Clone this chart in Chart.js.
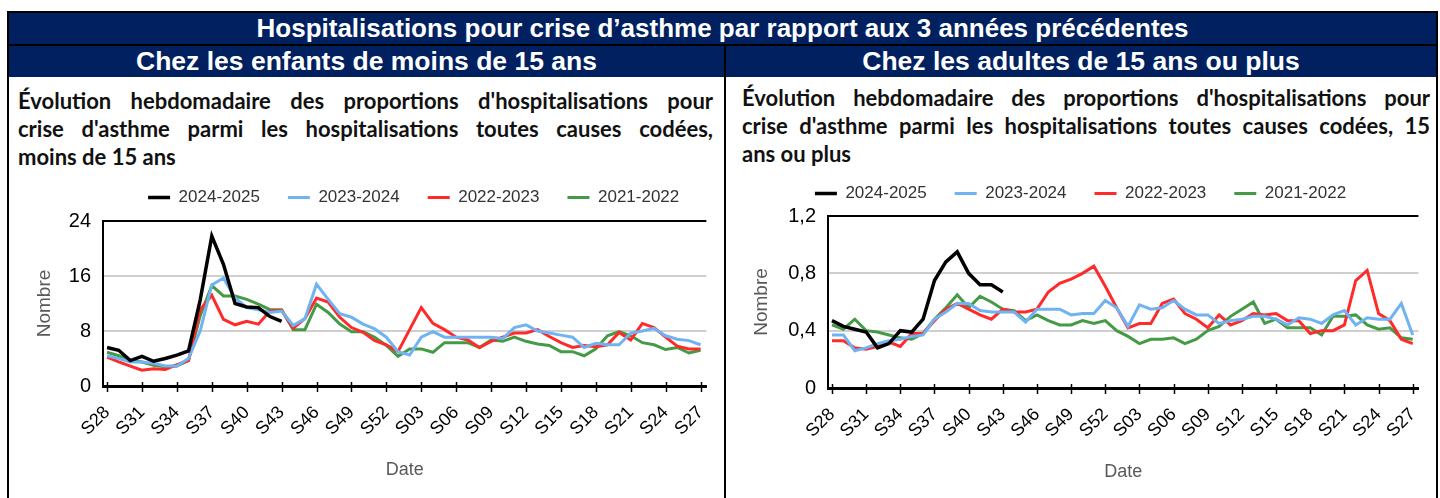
<!DOCTYPE html>
<html lang="fr">
<head>
<meta charset="utf-8">
<title>Hospitalisations pour crise d'asthme</title>
<script src="https://cdn.jsdelivr.net/npm/chart.js@4.4.1/dist/chart.umd.min.js"></script>
<style>
    html, body { margin: 0; padding: 0; background: #fff; }
    body {
        width: 1440px; height: 498px; position: relative; overflow: hidden;
        font-family: "Liberation Sans", Arial, sans-serif;
    }
    .frame {
        position: absolute; left: 7px; top: 11px; width: 1427px; height: 600px;
        border: 2px solid #000;
    }
    .band {
        position: absolute; background: #002060; color: #fff; font-weight: bold;
        text-align: center; white-space: nowrap; overflow: hidden;
    }
    #main-title { left: 9px; top: 13px; width: 1427px; height: 31px; line-height: 31px; font-size: 26px; }
    .rule-h { position: absolute; left: 9px; top: 44px; width: 1427px; height: 2px; background: #000; }
    .sub { top: 46px; height: 31px; line-height: 31px; font-size: 26.5px; }
    #sub-left { left: 9px; width: 715px; }
    #sub-right { left: 726px; width: 710px; }
    .rule-v { position: absolute; left: 724px; top: 44px; width: 2px; height: 460px; background: #000; }
    .desc {
        position: absolute; font-family: Lato, "Open Sans", sans-serif; font-weight: bold;
        font-size: 22px; line-height: 28px; color: #111;
    }
    .desc span { display: block; white-space: nowrap; }
    .desc .full { text-align: justify; text-align-last: justify; white-space: normal; }
    #desc-left { left: 18px; top: 87px; width: 695px; }
    #desc-right { left: 742px; top: 84px; width: 688px; }
    .chart-box { position: absolute; }
    #box-left { left: 9px; top: 161px; width: 715px; height: 337px; }
    #box-right { left: 726px; top: 157px; width: 710px; height: 341px; }
</style>
</head>
<body>
<div class="frame"></div>
<div class="band" id="main-title">Hospitalisations pour crise d’asthme par rapport aux 3 années précédentes</div>
<div class="rule-h"></div>
<div class="band sub" id="sub-left">Chez les enfants de moins de 15 ans</div>
<div class="band sub" id="sub-right">Chez les adultes de 15 ans ou plus</div>
<div class="rule-v"></div>

<div class="desc" id="desc-left">
    <span class="full">Évolution hebdomadaire des proportions d'hospitalisations pour</span>
    <span class="full">crise d'asthme parmi les hospitalisations toutes causes codées,</span>
    <span>moins de 15 ans</span>
</div>
<div class="desc" id="desc-right">
    <span class="full">Évolution hebdomadaire des proportions d'hospitalisations pour</span>
    <span class="full">crise d'asthme parmi les hospitalisations toutes causes codées, 15</span>
    <span>ans ou plus</span>
</div>

<div class="chart-box" id="box-left"><canvas id="chart-enfants"></canvas></div>
<div class="chart-box" id="box-right"><canvas id="chart-adultes"></canvas></div>

<script>
// Semaines S28 -> S27 (saison juillet à juin)
const weeks = [
    'S28', 'S29', 'S30', 'S31', 'S32', 'S33', 'S34', 'S35', 'S36', 'S37', 'S38', 'S39', 'S40',
    'S41', 'S42', 'S43', 'S44', 'S45', 'S46', 'S47', 'S48', 'S49', 'S50', 'S51', 'S52',
    'S01', 'S02', 'S03', 'S04', 'S05', 'S06', 'S07', 'S08', 'S09', 'S10', 'S11', 'S12', 'S13',
    'S14', 'S15', 'S16', 'S17', 'S18', 'S19', 'S20', 'S21', 'S22', 'S23', 'S24', 'S25', 'S26', 'S27'
];
const seasons = ['2024-2025', '2023-2024', '2022-2023', '2021-2022'];
const seasonColors = ['#000000', '#6fb3f2', '#ff2a2a', '#459a45'];

// Moins de 15 ans
const kids2425 = [5.6, 5.2, 3.7, 4.3, 3.6, 4.0, 4.5, 5.1, 12.5, 21.8, 17.7, 12.0, 11.5, 11.4, 10.1, 9.4];
const kids2324 = [4.4, 4.0, 3.5, 3.5, 3.3, 2.9, 2.9, 4.0, 8.0, 14.7, 15.7, 12.8, 11.4, 11.1, 10.7, 10.9, 8.8, 9.8, 14.8, 12.6, 10.5, 10.0, 9.0, 8.3, 7.1,
    5.0, 4.5, 7.1, 7.9, 7.1, 7.1, 7.1, 7.1, 7.1, 6.9, 8.5, 8.9, 8.0, 7.7, 7.4, 7.1, 5.6, 6.2, 6.0, 6.0, 7.7, 8.0, 8.4, 7.3, 6.8, 6.6, 6.0];
const kids2223 = [4.2, 3.5, 2.9, 2.3, 2.5, 2.4, 3.1, 3.7, 11.1, 13.2, 9.7, 8.9, 9.4, 9.0, 10.9, 11.0, 8.4, 9.8, 12.8, 12.2, 10.0, 8.5, 7.8, 6.6, 6.0,
    5.0, 8.2, 11.4, 9.1, 8.2, 7.1, 6.7, 5.6, 6.5, 7.1, 7.7, 7.7, 8.2, 7.2, 6.3, 5.6, 5.9, 5.7, 6.0, 7.8, 6.7, 9.1, 8.5, 7.1, 5.8, 5.4, 5.4];
const kids2122 = [4.9, 4.4, 3.7, 3.5, 3.0, 2.8, 2.9, 3.7, 10.2, 14.6, 13.1, 13.1, 12.6, 11.9, 11.1, 11.1, 8.2, 8.2, 11.9, 10.7, 9.0, 7.9, 7.9, 7.1, 5.9,
    4.3, 5.4, 5.4, 4.9, 6.3, 6.3, 6.3, 5.6, 6.7, 6.5, 7.1, 6.5, 6.1, 5.9, 5.0, 5.0, 4.4, 5.4, 7.3, 7.9, 7.3, 6.3, 6.0, 5.3, 5.6, 4.8, 5.2];
const kidsTicks = [0, 8, 16, 24];

// 15 ans ou plus
const adults2425 = [0.47, 0.43, 0.41, 0.39, 0.28, 0.31, 0.40, 0.39, 0.48, 0.75, 0.88, 0.95, 0.80, 0.72, 0.72, 0.67];
const adults2324 = [0.37, 0.37, 0.26, 0.28, 0.31, 0.33, 0.34, 0.36, 0.37, 0.48, 0.53, 0.59, 0.59, 0.54, 0.53, 0.53, 0.53, 0.46, 0.55, 0.55, 0.55, 0.51, 0.52, 0.52, 0.61,
    0.56, 0.43, 0.58, 0.55, 0.56, 0.61, 0.55, 0.51, 0.51, 0.45, 0.47, 0.48, 0.50, 0.50, 0.48, 0.44, 0.49, 0.48, 0.45, 0.51, 0.54, 0.44, 0.49, 0.48, 0.48, 0.59, 0.37];
const adults2223 = [0.33, 0.33, 0.28, 0.27, 0.29, 0.32, 0.29, 0.38, 0.38, 0.47, 0.55, 0.59, 0.55, 0.51, 0.48, 0.55, 0.53, 0.53, 0.55, 0.67, 0.73, 0.76, 0.80, 0.85, 0.71,
    0.56, 0.42, 0.45, 0.45, 0.59, 0.62, 0.52, 0.48, 0.42, 0.51, 0.44, 0.47, 0.52, 0.51, 0.52, 0.47, 0.47, 0.38, 0.40, 0.40, 0.44, 0.75, 0.82, 0.52, 0.47, 0.34, 0.31];
const adults2122 = [0.44, 0.41, 0.48, 0.40, 0.39, 0.37, 0.35, 0.34, 0.38, 0.48, 0.56, 0.65, 0.56, 0.64, 0.60, 0.55, 0.54, 0.47, 0.51, 0.47, 0.44, 0.44, 0.47, 0.45, 0.47,
    0.40, 0.36, 0.31, 0.34, 0.34, 0.35, 0.31, 0.34, 0.40, 0.43, 0.50, 0.55, 0.60, 0.45, 0.48, 0.42, 0.42, 0.42, 0.37, 0.50, 0.50, 0.51, 0.44, 0.41, 0.42, 0.35, 0.34];
const adultsTicks = [0, 0.4, 0.8, 1.2];

Chart.defaults.font.family = "'Liberation Sans', Arial, sans-serif";
Chart.defaults.color = '#000';

// Petites croix sur l'axe des dates
const tickCross = {
    id: 'tickCross',
    afterDraw(chart) {
        const { ctx, chartArea } = chart;
        const x = chart.scales.x;
        ctx.save();
        ctx.strokeStyle = '#000';
        ctx.lineWidth = 1.5;
        x.ticks.forEach(t => {
            const px = Math.round(x.getPixelForValue(t.value)) + 0.5;
            ctx.beginPath();
            ctx.moveTo(px, chartArea.bottom - 4);
            ctx.lineTo(px, chartArea.bottom + 6);
            ctx.stroke();
        });
        ctx.restore();
    }
};

// Légende : hauteur fixe et petit décalage horizontal
const legendPlacement = {
    id: 'legendPlacement',
    afterInit(chart, args, opts) {
        const legend = chart.legend;
        if (!legend) return;
        const fit = legend.fit;
        legend.fit = function () {
            fit.call(this);
            this.height = opts.height;
        };
    },
    afterLayout(chart, args, opts) {
        if (!chart.legend || !opts.shift) return;
        chart.legend.left += opts.shift;
        chart.legend.right += opts.shift;
    }
};

function toPoints(values) {
    return weeks.map((w, i) => ({ x: i, y: i < values.length ? values[i] : null }));
}

function createChart(canvasId, series, yTicks, layout) {
    const yMax = yTicks[yTicks.length - 1];
    const datasets = series.map((values, i) => ({
        label: seasons[i],
        data: toPoints(values),
        borderColor: seasonColors[i],
        backgroundColor: seasonColors[i],
        borderWidth: i === 0 ? 3.5 : 3,
        pointRadius: 0,
        tension: 0,
        spanGaps: false
    }));

    return new Chart(document.getElementById(canvasId), {
        type: 'line',
        data: { datasets },
        plugins: [tickCross, legendPlacement],
        options: {
            responsive: true,
            maintainAspectRatio: false,
            animation: false,
            layout: { padding: { left: 0, right: layout.padRight, top: 0, bottom: 0 } },
            plugins: {
                legendPlacement: { height: layout.legendHeight, shift: layout.legendShift },
                tooltip: { enabled: false },
                legend: {
                    position: 'top',
                    fullSize: layout.legendFull,
                    labels: {
                        usePointStyle: true,
                        pointStyle: 'line',
                        pointStyleWidth: 22,
                        boxWidth: 22,
                        padding: 28,
                        color: '#333',
                        font: { size: 17 }
                    }
                }
            },
            scales: {
                x: {
                    type: 'linear',
                    min: -0.35,
                    max: 51.5,
                    afterBuildTicks: scale => {
                        scale.ticks = weeks.map((w, i) => ({ value: i })).filter(t => t.value % 3 === 0);
                    },
                    afterFit: scale => { scale.height = layout.xHeight; },
                    ticks: {
                        autoSkip: false,
                        minRotation: 45,
                        maxRotation: 45,
                        padding: 8,
                        font: { size: 18 },
                        callback: v => weeks[v]
                    },
                    grid: { display: false },
                    border: { display: true, color: '#000', width: 3 },
                    title: {
                        display: true,
                        text: 'Date',
                        color: '#595959',
                        font: { size: 18 },
                        padding: { top: 0, bottom: layout.dateBottom }
                    }
                },
                y: {
                    min: 0,
                    max: yMax,
                    afterBuildTicks: scale => {
                        scale.ticks = yTicks.map(v => ({ value: v }));
                    },
                    afterFit: scale => { scale.width = layout.yWidth; },
                    ticks: {
                        padding: 12,
                        font: { size: 20 },
                        callback: v => v === 0 ? '0' : String(v).replace('.', ',')
                    },
                    grid: {
                        drawTicks: false,
                        lineWidth: 2,
                        color: c => {
                            if (c.tick.value === 0) return 'rgba(0,0,0,0)';
                            return c.tick.value === yMax ? '#000' : '#cfcfcf';
                        }
                    },
                    border: { display: true, color: '#000', width: 2 },
                    title: {
                        display: true,
                        text: 'Nombre',
                        color: '#595959',
                        font: { size: 19 },
                        padding: { top: 24, bottom: 0 }
                    }
                }
            }
        }
    });
}

document.addEventListener('DOMContentLoaded', () => {
    createChart('chart-enfants', [kids2425, kids2324, kids2223, kids2122], kidsTicks, {
        padRight: 11, legendHeight: 60, legendFull: false, legendShift: 9,
        xHeight: 112, yWidth: 94, dateBottom: 17
    });
    createChart('chart-adultes', [adults2425, adults2324, adults2223, adults2122], adultsTicks, {
        padRight: 1, legendHeight: 59, legendFull: true, legendShift: 0,
        xHeight: 110, yWidth: 102, dateBottom: 15
    });
});
</script>
</body>
</html>
